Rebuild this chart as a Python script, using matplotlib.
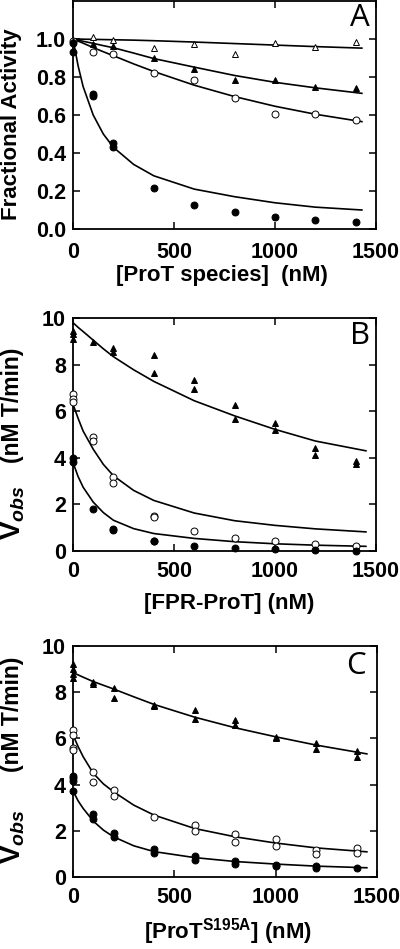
import numpy as np
import matplotlib
matplotlib.use("Agg")
import matplotlib.pyplot as plt

plt.rcParams['font.family'] = ['Liberation Sans', 'DejaVu Sans']
plt.rcParams['font.weight'] = 'bold'
plt.rcParams['mathtext.fontset'] = 'custom'
plt.rcParams['mathtext.rm'] = 'Liberation Sans'
plt.rcParams['mathtext.it'] = 'Liberation Sans:italic:bold'
plt.rcParams['mathtext.bf'] = 'Liberation Sans:bold'

# ---- Panel A data (fractional activity) ----
a_fc_x = [0, 0, 100, 100, 200, 200, 400, 600, 800, 1000, 1200, 1400]
a_fc_y = [0.98, 0.93, 0.71, 0.70, 0.455, 0.43, 0.215, 0.125, 0.088, 0.063, 0.047, 0.037]
a_oc_x = [0, 100, 200, 400, 600, 800, 1000, 1200, 1400]
a_oc_y = [0.99, 0.93, 0.919, 0.823, 0.782, 0.688, 0.605, 0.605, 0.575]
a_ft_x = [0, 100, 200, 400, 600, 800, 1000, 1200, 1400]
a_ft_y = [0.99, 0.972, 0.961, 0.898, 0.842, 0.784, 0.784, 0.749, 0.744]
a_ot_x = [100, 200, 400, 600, 800, 1000, 1200, 1400]
a_ot_y = [1.009, 0.996, 0.951, 0.972, 0.919, 0.981, 0.958, 0.984]

a_fit_x = [0, 25, 50, 100, 150, 200, 300, 400, 600, 800, 1000, 1200, 1430]
a_fit_fc = [1.0, 0.86, 0.75, 0.60, 0.50, 0.43, 0.34, 0.28, 0.21, 0.17, 0.138, 0.115, 0.10]
a_fit_oc = [1.0, 0.989, 0.978, 0.955, 0.933, 0.912, 0.869, 0.829, 0.757, 0.697, 0.646, 0.604, 0.565]
a_fit_ft = [1.0, 0.994, 0.988, 0.977, 0.965, 0.954, 0.926, 0.897, 0.852, 0.808, 0.772, 0.743, 0.714]
a_fit_ot = [1.0, 1.0, 0.999, 0.998, 0.997, 0.996, 0.994, 0.991, 0.984, 0.976, 0.968, 0.96, 0.952]

# ---- Panel B data (FPR-ProT) ----
b_ft_x = [0, 0, 0, 100, 200, 200, 400, 400, 600, 600, 800, 800, 1000, 1000, 1200, 1200, 1400, 1400]
b_ft_y = [9.45, 9.3, 9.12, 8.98, 8.7, 8.55, 8.41, 7.66, 7.35, 6.95, 6.28, 5.65, 5.5, 5.2, 4.4, 4.12, 3.87, 3.75]
b_oc_x = [0, 0, 0, 100, 100, 200, 200, 400, 400, 600, 800, 1000, 1200, 1400]
b_oc_y = [6.74, 6.54, 6.4, 4.89, 4.72, 3.16, 2.92, 1.5, 1.45, 0.84, 0.57, 0.43, 0.31, 0.23]
b_fc_x = [0, 0, 100, 200, 200, 400, 400, 600, 800, 1000, 1200, 1400]
b_fc_y = [3.97, 3.83, 1.8, 0.96, 0.89, 0.45, 0.43, 0.23, 0.14, 0.10, 0.04, 0.02]

bc_fit_x = [0, 25, 50, 100, 150, 200, 300, 400, 600, 800, 1000, 1200, 1450]
b_fit_ft = [9.8, 9.6, 9.42, 9.05, 8.68, 8.34, 7.78, 7.28, 6.45, 5.8, 5.22, 4.72, 4.3]
b_fit_oc = [6.3, 5.7, 5.15, 4.37, 3.72, 3.23, 2.6, 2.17, 1.63, 1.3, 1.1, 0.95, 0.82]
b_fit_fc = [3.8, 3.2, 2.74, 2.1, 1.65, 1.32, 0.96, 0.75, 0.54, 0.4, 0.31, 0.25, 0.2]

# ---- Panel C data (ProT S195A) ----
c_ft_x = [0, 0, 0, 0, 100, 100, 200, 200, 400, 400, 600, 600, 800, 800, 1000, 1000, 1200, 1200, 1400, 1400]
c_ft_y = [9.2, 9.0, 8.8, 8.6, 8.44, 8.35, 8.18, 7.77, 7.45, 7.4, 7.24, 6.83, 6.8, 6.58, 6.05, 6.0, 5.79, 5.54, 5.46, 5.21]
c_oc_x = [0, 0, 0, 0, 100, 100, 200, 200, 400, 600, 600, 800, 800, 1000, 1000, 1200, 1200, 1400, 1400]
c_oc_y = [6.37, 6.15, 5.57, 5.5, 4.56, 4.12, 3.76, 3.52, 2.58, 2.23, 2.0, 1.84, 1.52, 1.64, 1.35, 1.16, 1.01, 1.26, 1.06]
c_fc_x = [0, 0, 0, 0, 100, 100, 200, 200, 400, 400, 600, 600, 800, 800, 1000, 1000, 1200, 1200, 1400]
c_fc_y = [4.38, 4.27, 4.15, 3.72, 2.71, 2.53, 1.92, 1.74, 1.2, 1.04, 0.91, 0.75, 0.68, 0.55, 0.54, 0.48, 0.48, 0.41, 0.39]

c_fit_ft = [8.85, 8.75, 8.65, 8.46, 8.3, 8.14, 7.8, 7.47, 6.92, 6.46, 6.07, 5.71, 5.33]
c_fit_oc = [6.15, 5.65, 5.21, 4.49, 4.03, 3.69, 3.11, 2.68, 2.1, 1.74, 1.47, 1.26, 1.09]
c_fit_fc = [3.73, 3.3, 2.97, 2.42, 2.03, 1.74, 1.35, 1.1, 0.84, 0.67, 0.56, 0.47, 0.40]

W, H = 400, 949
fig = plt.figure(figsize=(W / 100, H / 100), dpi=100)
TICK_FS = 15.5
LAB_FS = 16


def px_axes(left, top, right, bottom):
    return fig.add_axes([left / W, 1 - bottom / H, (right - left) / W, (bottom - top) / H])


def ftext(x, y, s, **kw):
    # place text at reference pixel coordinates
    return fig.text(x / W, 1 - y / H, s, ha='center', va='center', **kw)


def style(ax, ylim, yticks, yfmt, xpad):
    ax.set_xlim(0, 1500)
    ax.set_ylim(*ylim)
    ax.set_xticks([0, 500, 1000, 1500])
    ax.set_yticks(yticks)
    ax.set_yticklabels([yfmt % v for v in yticks])
    ax.tick_params(direction='in', length=5, width=1.1, top=True, right=True,
                   labelsize=TICK_FS, pad=5)
    ax.tick_params(axis='x', pad=xpad)
    for s in ax.spines.values():
        s.set_linewidth(1.3)
    for lab in ax.get_xticklabels() + ax.get_yticklabels():
        lab.set_fontweight('bold')


def pts(ax, x, y, marker, filled, ms=5):
    ax.plot(x, y, linestyle='none', marker=marker, ms=ms,
            mfc='black' if filled else 'white', mec='black', mew=0.7, clip_on=False, zorder=3)


def fit(ax, x, y):
    ax.plot(x, y, color='black', lw=1.2, zorder=2)


# Panel A
axA = px_axes(73, 1, 376, 229)
for yv in (a_fit_fc, a_fit_oc, a_fit_ft, a_fit_ot):
    fit(axA, a_fit_x, yv)
pts(axA, a_oc_x, a_oc_y, 'o', False)
pts(axA, a_ot_x, a_ot_y, '^', False)
pts(axA, a_ft_x, a_ft_y, '^', True)
pts(axA, a_fc_x, a_fc_y, 'o', True)
style(axA, (0, 1.2), [0, 0.2, 0.4, 0.6, 0.8, 1.0], '%.1f', 9.5)
ftext(12, 124, 'Fractional Activity', rotation=90, fontsize=LAB_FS, fontweight='bold')
ftext(222, 276, '[ProT species]  (nM)', fontsize=LAB_FS, fontweight='bold')

# Panel B
axB = px_axes(73, 318, 376, 551)
for yv in (b_fit_ft, b_fit_oc, b_fit_fc):
    fit(axB, bc_fit_x, yv)
pts(axB, b_ft_x, b_ft_y, '^', True)
pts(axB, b_oc_x, b_oc_y, 'o', False)
pts(axB, b_fc_x, b_fc_y, 'o', True)
style(axB, (0, 10), [0, 2, 4, 6, 8, 10], '%d', 7)
ftext(229, 603, '[FPR-ProT] (nM)', fontsize=LAB_FS, fontweight='bold')

# Panel C
axC = px_axes(73, 646, 377, 877)
for yv in (c_fit_ft, c_fit_oc, c_fit_fc):
    fit(axC, bc_fit_x, yv)
pts(axC, c_ft_x, c_ft_y, '^', True)
pts(axC, c_oc_x, c_oc_y, 'o', False)
pts(axC, c_fc_x, c_fc_y, 'o', True)
style(axC, (0, 10), [0, 2, 4, 6, 8, 10], '%d', 7)
ftext(228, 932, r'[ProT$^{\mathregular{S195A}}$] (nM)', fontsize=LAB_FS, fontweight='bold')

# y labels for B and C (V_obs with larger V)
for yc_unit, yc_v in ((405, 513), (714, 837)):
    ftext(13, yc_unit, '(nM T/min)', rotation=90, fontsize=16.5, fontweight='bold')
    ftext(13, yc_v, r'$\mathbf{V}_{obs}$', rotation=90, fontsize=20)

# panel letters
for letter, cx, cy in (('A', 360, 18), ('B', 360, 336), ('C', 356, 666)):
    ftext(cx, cy, letter, fontsize=22.5, fontweight='normal', family=['Open Sans', 'DejaVu Sans'])

fig.savefig('out.png', dpi=100)
